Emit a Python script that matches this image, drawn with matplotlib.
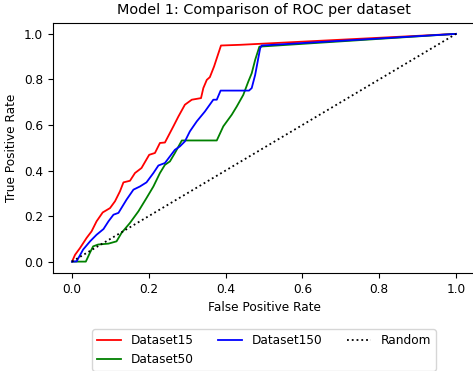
import matplotlib
matplotlib.use("Agg")
import matplotlib.pyplot as plt

# ROC points (false positive rate, true positive rate)
fpr15 = [0.0, 0.008, 0.021, 0.038, 0.051, 0.064, 0.080, 0.099, 0.112, 0.125, 0.134,
         0.151, 0.164, 0.181, 0.201, 0.216, 0.229, 0.242, 0.264, 0.277, 0.294, 0.312,
         0.336, 0.342, 0.351, 0.359, 0.370, 0.377, 0.388, 0.438, 1.0]
tpr15 = [0.0, 0.030, 0.060, 0.104, 0.133, 0.177, 0.216, 0.235, 0.265, 0.309, 0.348,
         0.355, 0.389, 0.411, 0.469, 0.477, 0.521, 0.523, 0.594, 0.637, 0.689, 0.711,
         0.718, 0.762, 0.798, 0.810, 0.857, 0.893, 0.949, 0.952, 1.0]

fpr50 = [0.0, 0.036, 0.047, 0.055, 0.068, 0.095, 0.116, 0.129, 0.151, 0.173, 0.194,
         0.212, 0.229, 0.242, 0.255, 0.268, 0.286, 0.377, 0.394, 0.416, 0.429, 0.446,
         0.459, 0.468, 0.477, 0.488, 1.0]
tpr50 = [0.0, 0.0, 0.040, 0.067, 0.075, 0.079, 0.089, 0.126, 0.170, 0.221, 0.279,
         0.330, 0.389, 0.425, 0.440, 0.477, 0.532, 0.532, 0.594, 0.645, 0.681, 0.732,
         0.790, 0.827, 0.886, 0.944, 1.0]

fpr150 = [0.0, 0.012, 0.029, 0.047, 0.064, 0.082, 0.095, 0.108, 0.121, 0.142, 0.160,
          0.177, 0.194, 0.212, 0.225, 0.242, 0.255, 0.268, 0.281, 0.294, 0.307, 0.325,
          0.346, 0.368, 0.377, 0.387, 0.461, 0.468, 0.477, 0.490, 0.494, 1.0]
tpr150 = [0.0, 0.001, 0.053, 0.089, 0.118, 0.143, 0.177, 0.206, 0.214, 0.272, 0.316,
          0.330, 0.348, 0.389, 0.422, 0.433, 0.462, 0.491, 0.506, 0.528, 0.572, 0.616,
          0.659, 0.711, 0.711, 0.751, 0.751, 0.762, 0.820, 0.937, 0.949, 1.0]

random_x = [0.0, 1.0]
random_y = [0.0, 1.0]

plt.rcParams['font.size'] = 8.7
plt.rcParams['lines.linewidth'] = 1.3

fig = plt.figure(figsize=(4.73, 3.71), dpi=100)
# right spine falls just outside the picture in the reference
ax = fig.add_axes([52.8 / 473, 98 / 371, 422.4 / 473, 250.5 / 371])

ax.plot(fpr15, tpr15, color='red', label='Dataset15')
ax.plot(fpr50, tpr50, color='green', label='Dataset50')
ax.plot(fpr150, tpr150, color='blue', label='Dataset150')
ax.plot(random_x, random_y, color='black', linestyle=':', label='Random')

ax.set_xlabel('False Positive Rate')
ax.set_ylabel('True Positive Rate')
ax.set_title('Model 1: Comparison of ROC per dataset', fontsize=10.4)
ax.legend(loc='upper center', bbox_to_anchor=(0.5, -0.2), ncol=3)

fig.savefig('out.png', dpi=100)
